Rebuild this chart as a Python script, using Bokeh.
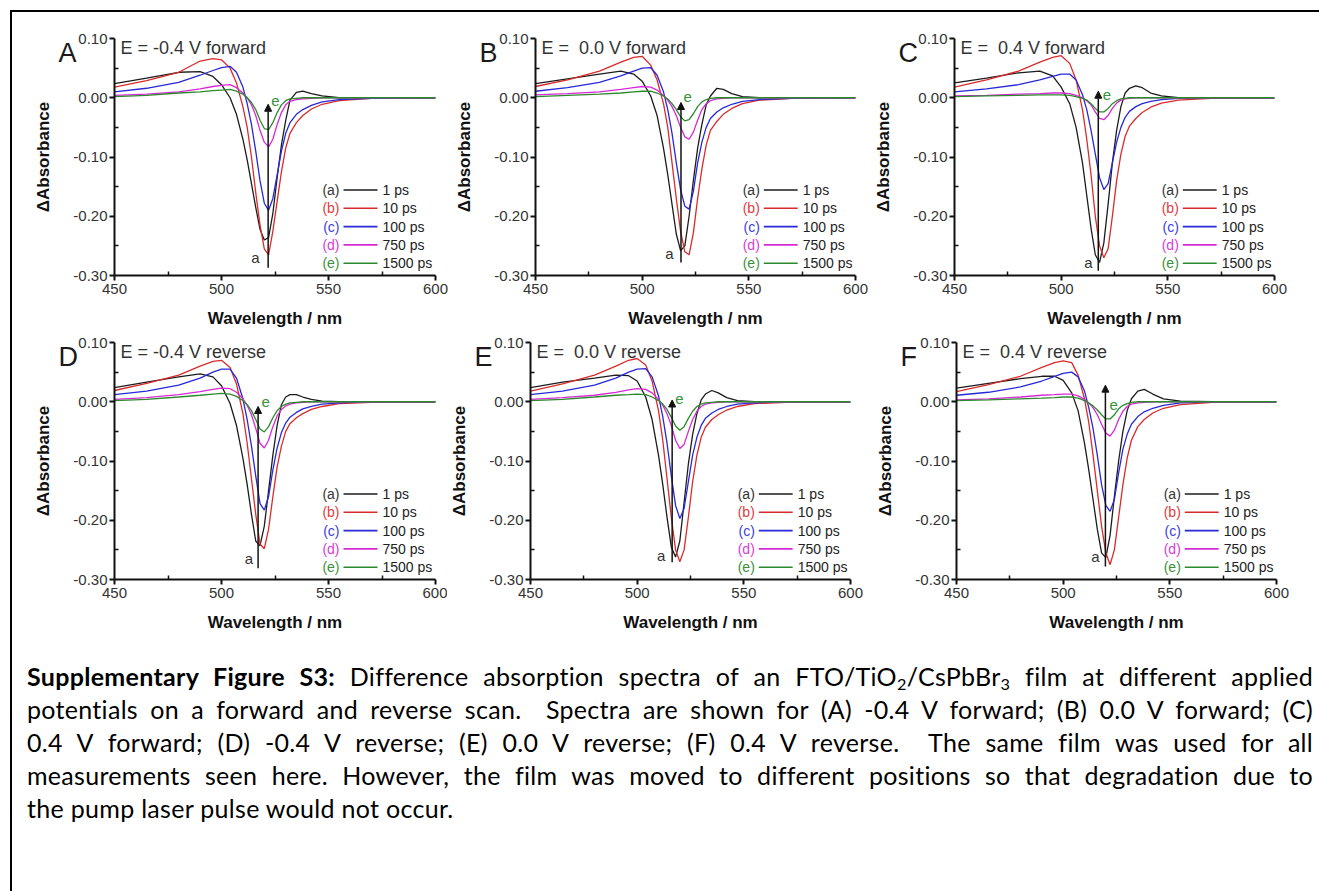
from bokeh.plotting import figure
from bokeh.layouts import row, column
from bokeh.models import FixedTicker, PrintfTickFormatter, Label, Arrow, NormalHead, Div, Title
from bokeh.embed import file_html
from bokeh.resources import INLINE

# ---------------- data ----------------
WL = [450, 465, 480, 490, 496, 500, 504, 507, 510, 512, 514, 516, 518, 520,
      522, 524, 526, 528, 530, 532, 535, 538, 542, 547, 555, 570, 600]

DELAYS = ["1 ps", "10 ps", "100 ps", "750 ps", "1500 ps"]
TAGS = ["(a)", "(b)", "(c)", "(d)", "(e)"]

A_a = [0.024, 0.033, 0.043, 0.044, 0.036, 0.022, 0.000, -0.028, -0.070, -0.105, -0.145, -0.185, -0.222, -0.240, -0.236, -0.195, -0.135, -0.080, -0.038, -0.004, 0.009, 0.011, 0.007, 0.003, 0.000, 0.000, 0.000]
A_b = [0.018, 0.029, 0.043, 0.062, 0.066, 0.064, 0.050, 0.025, -0.015, -0.050, -0.100, -0.160, -0.215, -0.255, -0.265, -0.225, -0.175, -0.125, -0.085, -0.060, -0.042, -0.030, -0.019, -0.011, -0.005, -0.001, 0.000]
A_c = [0.010, 0.016, 0.026, 0.038, 0.046, 0.051, 0.053, 0.043, 0.018, -0.010, -0.045, -0.090, -0.140, -0.178, -0.190, -0.170, -0.130, -0.090, -0.060, -0.042, -0.028, -0.020, -0.013, -0.007, -0.003, -0.001, 0.000]
A_d = [0.004, 0.006, 0.010, 0.015, 0.019, 0.021, 0.022, 0.017, 0.008, 0.000, -0.012, -0.030, -0.055, -0.075, -0.083, -0.070, -0.045, -0.025, -0.012, -0.006, -0.003, -0.002, -0.001, 0.000, 0.000, 0.000, 0.000]
A_e = [0.002, 0.004, 0.008, 0.010, 0.012, 0.013, 0.014, 0.011, 0.006, 0.000, -0.008, -0.020, -0.038, -0.052, -0.054, -0.042, -0.025, -0.012, -0.005, -0.002, -0.001, 0.000, 0.000, 0.000, 0.000, 0.000, 0.000]

B_a = [0.024, 0.032, 0.040, 0.045, 0.040, 0.028, 0.003, -0.030, -0.085, -0.130, -0.180, -0.230, -0.258, -0.250, -0.200, -0.140, -0.085, -0.045, -0.012, 0.003, 0.016, 0.014, 0.007, 0.002, 0.000, 0.000, 0.000]
B_b = [0.019, 0.030, 0.045, 0.060, 0.068, 0.070, 0.055, 0.030, -0.010, -0.050, -0.110, -0.170, -0.225, -0.260, -0.265, -0.228, -0.170, -0.120, -0.080, -0.055, -0.040, -0.028, -0.018, -0.010, -0.004, -0.001, 0.000]
B_c = [0.011, 0.017, 0.026, 0.037, 0.045, 0.050, 0.051, 0.038, 0.010, -0.020, -0.060, -0.110, -0.155, -0.183, -0.188, -0.158, -0.110, -0.075, -0.050, -0.035, -0.024, -0.017, -0.011, -0.006, -0.003, -0.001, 0.000]
B_d = [0.005, 0.007, 0.010, 0.014, 0.017, 0.019, 0.018, 0.013, 0.004, -0.004, -0.015, -0.030, -0.050, -0.066, -0.070, -0.058, -0.038, -0.020, -0.010, -0.005, -0.002, -0.001, 0.000, 0.000, 0.000, 0.000, 0.000]
B_e = [0.002, 0.004, 0.006, 0.008, 0.010, 0.011, 0.011, 0.008, 0.003, -0.002, -0.010, -0.020, -0.032, -0.039, -0.037, -0.027, -0.015, -0.007, -0.003, -0.001, 0.000, 0.000, 0.000, 0.000, 0.000, 0.000, 0.000]

C_a = [0.025, 0.033, 0.042, 0.045, 0.037, 0.018, -0.010, -0.050, -0.110, -0.165, -0.220, -0.265, -0.278, -0.245, -0.180, -0.110, -0.055, -0.015, 0.008, 0.016, 0.020, 0.017, 0.008, 0.003, 0.000, 0.000, 0.000]
C_b = [0.018, 0.030, 0.045, 0.060, 0.068, 0.071, 0.058, 0.030, -0.020, -0.070, -0.130, -0.200, -0.250, -0.270, -0.255, -0.200, -0.140, -0.095, -0.065, -0.048, -0.035, -0.025, -0.016, -0.009, -0.004, -0.001, 0.000]
C_c = [0.010, 0.015, 0.022, 0.030, 0.036, 0.040, 0.040, 0.030, 0.005, -0.020, -0.055, -0.095, -0.135, -0.155, -0.145, -0.110, -0.075, -0.050, -0.033, -0.023, -0.015, -0.010, -0.006, -0.003, -0.001, 0.000, 0.000]
C_d = [0.003, 0.004, 0.006, 0.007, 0.008, 0.008, 0.007, 0.004, 0.000, -0.005, -0.012, -0.024, -0.035, -0.037, -0.030, -0.018, -0.009, -0.004, -0.002, -0.001, 0.000, 0.000, 0.000, 0.000, 0.000, 0.000, 0.000]
C_e = [0.002, 0.003, 0.004, 0.005, 0.005, 0.005, 0.004, 0.002, -0.001, -0.004, -0.010, -0.018, -0.024, -0.024, -0.018, -0.010, -0.005, -0.002, -0.001, 0.000, 0.000, 0.000, 0.000, 0.000, 0.000, 0.000, 0.000]

D_a = [0.024, 0.033, 0.042, 0.047, 0.042, 0.027, -0.003, -0.040, -0.095, -0.140, -0.190, -0.235, -0.243, -0.210, -0.150, -0.090, -0.040, -0.005, 0.008, 0.012, 0.012, 0.008, 0.004, 0.001, 0.000, 0.000, 0.000]
D_b = [0.019, 0.031, 0.045, 0.060, 0.068, 0.070, 0.058, 0.030, -0.020, -0.070, -0.130, -0.190, -0.240, -0.248, -0.215, -0.160, -0.110, -0.075, -0.050, -0.037, -0.027, -0.020, -0.013, -0.008, -0.003, -0.001, 0.000]
D_c = [0.012, 0.018, 0.028, 0.040, 0.050, 0.055, 0.055, 0.040, 0.005, -0.030, -0.075, -0.125, -0.172, -0.183, -0.160, -0.115, -0.078, -0.052, -0.036, -0.026, -0.018, -0.012, -0.008, -0.004, -0.002, 0.000, 0.000]
D_d = [0.004, 0.007, 0.012, 0.017, 0.021, 0.023, 0.022, 0.016, 0.005, -0.006, -0.022, -0.045, -0.070, -0.078, -0.065, -0.042, -0.024, -0.013, -0.007, -0.004, -0.002, -0.001, 0.000, 0.000, 0.000, 0.000, 0.000]
D_e = [0.002, 0.004, 0.008, 0.011, 0.013, 0.014, 0.013, 0.009, 0.002, -0.005, -0.015, -0.030, -0.046, -0.051, -0.042, -0.027, -0.015, -0.008, -0.004, -0.002, -0.001, 0.000, 0.000, 0.000, 0.000, 0.000, 0.000]

E_a = [0.024, 0.033, 0.040, 0.045, 0.044, 0.035, 0.008, -0.030, -0.090, -0.140, -0.195, -0.245, -0.262, -0.235, -0.170, -0.105, -0.055, -0.020, 0.003, 0.013, 0.019, 0.015, 0.007, 0.002, 0.000, 0.000, 0.000]
E_b = [0.018, 0.030, 0.045, 0.060, 0.070, 0.073, 0.062, 0.035, -0.015, -0.065, -0.130, -0.195, -0.250, -0.270, -0.250, -0.195, -0.135, -0.090, -0.060, -0.043, -0.030, -0.022, -0.014, -0.008, -0.003, -0.001, 0.000]
E_c = [0.012, 0.018, 0.028, 0.040, 0.050, 0.055, 0.056, 0.042, 0.010, -0.025, -0.070, -0.125, -0.175, -0.197, -0.180, -0.135, -0.090, -0.060, -0.040, -0.028, -0.019, -0.013, -0.008, -0.004, -0.002, 0.000, 0.000]
E_d = [0.004, 0.007, 0.011, 0.016, 0.020, 0.022, 0.021, 0.015, 0.004, -0.006, -0.020, -0.040, -0.065, -0.079, -0.072, -0.050, -0.030, -0.016, -0.008, -0.004, -0.002, -0.001, 0.000, 0.000, 0.000, 0.000, 0.000]
E_e = [0.002, 0.004, 0.008, 0.011, 0.012, 0.013, 0.012, 0.008, 0.002, -0.004, -0.013, -0.026, -0.041, -0.048, -0.042, -0.028, -0.016, -0.008, -0.004, -0.002, -0.001, 0.000, 0.000, 0.000, 0.000, 0.000, 0.000]

F_a = [0.023, 0.031, 0.039, 0.043, 0.043, 0.036, 0.015, -0.015, -0.070, -0.115, -0.165, -0.215, -0.255, -0.263, -0.225, -0.160, -0.100, -0.050, -0.015, 0.005, 0.018, 0.021, 0.013, 0.005, 0.001, 0.000, 0.000]
F_b = [0.017, 0.029, 0.043, 0.058, 0.066, 0.069, 0.066, 0.045, 0.005, -0.035, -0.090, -0.150, -0.210, -0.255, -0.275, -0.250, -0.195, -0.140, -0.095, -0.065, -0.042, -0.030, -0.019, -0.011, -0.005, -0.001, 0.000]
F_c = [0.011, 0.016, 0.025, 0.035, 0.043, 0.048, 0.050, 0.042, 0.018, -0.010, -0.045, -0.090, -0.140, -0.175, -0.185, -0.165, -0.120, -0.080, -0.055, -0.038, -0.025, -0.017, -0.011, -0.006, -0.002, 0.000, 0.000]
F_d = [0.003, 0.005, 0.008, 0.011, 0.012, 0.013, 0.013, 0.010, 0.004, -0.002, -0.010, -0.022, -0.038, -0.053, -0.058, -0.048, -0.030, -0.016, -0.008, -0.004, -0.002, -0.001, 0.000, 0.000, 0.000, 0.000, 0.000]
F_e = [0.002, 0.003, 0.005, 0.006, 0.007, 0.008, 0.008, 0.006, 0.002, -0.002, -0.007, -0.014, -0.022, -0.029, -0.029, -0.022, -0.012, -0.006, -0.003, -0.001, 0.000, 0.000, 0.000, 0.000, 0.000, 0.000, 0.000]

LETTERS = ["A", "B", "C", "D", "E", "F"]
CONDITIONS = ["E = -0.4 V forward", "E =\u00a0\u00a00.0 V forward", "E =\u00a0\u00a00.4 V forward",
              "E = -0.4 V reverse", "E =\u00a0\u00a00.0 V reverse", "E =\u00a0\u00a00.4 V reverse"]
SERIES = [[A_a, A_b, A_c, A_d, A_e], [B_a, B_b, B_c, B_d, B_e], [C_a, C_b, C_c, C_d, C_e],
          [D_a, D_b, D_c, D_d, D_e], [E_a, E_b, E_c, E_d, E_e], [F_a, F_b, F_c, F_d, F_e]]

# arrow (decay direction a -> e): x, y bottom, y top
ARROW_X = [521.8, 518.2, 517.4, 517.1, 516.4, 519.8]
ARROW_Y0 = [-0.287, -0.278, -0.292, -0.281, -0.271, -0.278]
ARROW_Y1 = [-0.011, -0.008, 0.011, -0.008, 0.003, 0.028]
LBL_A_X = [515.9, 512.8, 512.8, 512.8, 511.2, 515.1]
LBL_A_Y = [-0.270, -0.263, -0.278, -0.264, -0.259, -0.262]
LBL_E_X = [525.2, 521.3, 521.4, 520.6, 519.8, 523.7]
LBL_E_Y = [-0.005, 0.001, 0.005, 0.000, 0.004, -0.005]

# ---------------- style ----------------
FONT = "Liberation Sans"
COLORS = ["#1c1c1c", "#d92b2b", "#2828d8", "#d62ad6", "#2c8a2c"]
TAG_COLORS = ["#333333", "#e03c3c", "#3c3ce0", "#d83cd8", "#3a923a"]

PX_X = 321 / 150.0      # px per nm
PX_Y = 237 / 0.40       # px per absorbance unit


def make_panel(i, frame_w, left, right, top, bottom):
    p = figure(frame_width=frame_w, frame_height=237, x_range=(450, 600), y_range=(-0.30, 0.10),
               output_backend="svg", toolbar_location=None,
               min_border_left=left, min_border_right=right, min_border_top=top, min_border_bottom=bottom)
    p.outline_line_color = None
    p.grid.visible = False
    p.background_fill_color = "white"
    p.border_fill_color = "white"

    for k, ys in enumerate(SERIES[i]):
        p.line(WL, ys, line_color=COLORS[k], line_width=1.3)

    # axes
    p.xaxis.ticker = FixedTicker(ticks=[450, 500, 550, 600], minor_ticks=[475, 525, 575])
    p.yaxis.ticker = FixedTicker(ticks=[-0.3, -0.2, -0.1, 0.0, 0.1], minor_ticks=[-0.25, -0.15, -0.05, 0.05])
    p.yaxis.formatter = PrintfTickFormatter(format="%.2f")
    for ax in (p.xaxis[0], p.yaxis[0]):
        ax.axis_line_width = 2
        ax.axis_line_color = "#111111"
        ax.major_tick_line_width = 2
        ax.major_tick_line_color = "#111111"
        ax.minor_tick_line_width = 1.5
        ax.minor_tick_line_color = "#111111"
        ax.major_tick_out = 5
        ax.major_tick_in = 0
        ax.minor_tick_out = 0
        ax.minor_tick_in = 4
        ax.major_label_text_font = FONT
        ax.major_label_text_font_size = "15px"
        ax.major_label_text_color = "#333333"
        ax.axis_label_text_font = FONT
        ax.axis_label_text_font_size = "17px"
        ax.axis_label_text_font_style = "bold"
        ax.axis_label_text_color = "#111111"
    p.xaxis.axis_label = "Wavelength / nm"
    p.yaxis.axis_label = "\u0394Absorbance"
    p.xaxis.major_label_standoff = 3
    p.xaxis.axis_label_standoff = 12
    p.yaxis.major_label_standoff = 2
    p.yaxis.axis_label_standoff = 17

    # panel letter (a title pulled left of the y axis and down beside the frame top)
    try:
        t = Title(text=LETTERS[i], align="left", offset=-56, standoff=-58, text_font=FONT,
                  text_font_size="27px", text_font_style="normal", text_color="#1a1a1a")
    except Exception:
        t = Title(text=LETTERS[i], align="left", offset=-56, standoff=0, text_font=FONT,
                  text_font_size="27px", text_font_style="normal", text_color="#1a1a1a")
    p.add_layout(t, "above")

    p.add_layout(Label(x=450 + 6 / PX_X, y=0.10 - 9.5 / PX_Y, text=CONDITIONS[i], text_font=FONT,
                       text_font_size="18px", text_color="#333333", text_align="left", text_baseline="middle"))

    # legend
    for k in range(5):
        yy = 0.10 - (151.5 + 18.3 * k) / PX_Y
        p.add_layout(Label(x=450 + 225 / PX_X, y=yy, text=TAGS[k], text_font=FONT, text_font_size="14px",
                           text_color=TAG_COLORS[k], text_align="right", text_baseline="middle"))
        p.segment(x0=[450 + 229 / PX_X], y0=[yy], x1=[450 + 263 / PX_X], y1=[yy],
                  line_color=COLORS[k], line_width=1.6)
        p.add_layout(Label(x=450 + 268 / PX_X, y=yy, text=DELAYS[k], text_font=FONT, text_font_size="14px",
                           text_color="#222222", text_align="left", text_baseline="middle"))

    # arrow a -> e
    p.add_layout(Arrow(end=NormalHead(size=7, fill_color="#111111", line_color="#111111"),
                       x_start=ARROW_X[i], y_start=ARROW_Y0[i], x_end=ARROW_X[i], y_end=ARROW_Y1[i],
                       line_color="#111111", line_width=1.5))
    p.add_layout(Label(x=LBL_A_X[i], y=LBL_A_Y[i], text="a", text_font=FONT, text_font_size="15px",
                       text_color="#333333", text_align="center", text_baseline="middle"))
    p.add_layout(Label(x=LBL_E_X[i], y=LBL_E_Y[i], text="e", text_font=FONT, text_font_size="15px",
                       text_color="#3a923a", text_align="center", text_baseline="middle"))
    return p


pA = make_panel(0, 321, 102, 17, 26, 52)
pB = make_panel(1, 320, 82, 16, 26, 52)
pC = make_panel(2, 320, 82, 20, 26, 52)
pD = make_panel(3, 321, 102, 12, 12, 52)
pE = make_panel(4, 320, 82, 23, 12, 52)
pF = make_panel(5, 320, 82, 20, 12, 52)

CAPTION_LINES = [
    "<b>Supplementary Figure S3:</b> Difference absorption spectra of an FTO/TiO<sub>2</sub>/CsPbBr<sub>3</sub> film at different applied",
    "potentials on a forward and reverse scan.&nbsp; Spectra are shown for (A) -0.4 V forward; (B) 0.0 V forward; (C)",
    "0.4 V forward; (D) -0.4 V reverse; (E) 0.0 V reverse; (F) 0.4 V reverse.&nbsp; The same film was used for all",
    "measurements seen here. However, the film was moved to different positions so that degradation due to",
    "the pump laser pulse would not occur.",
]
inner = ""
for j, ln in enumerate(CAPTION_LINES):
    last = "left" if j == len(CAPTION_LINES) - 1 else "justify"
    ln = ln.replace("<sub>", "<sub style='font-size:65%;line-height:0;vertical-align:-0.25em;'>")
    inner += "<div style='text-align:justify;text-align-last:%s;height:33px;'>%s</div>" % (last, ln)
caption = Div(text="<div style='width:1286px;margin-left:10px;padding-top:21px;font-family:Lato;"
                   "font-size:25px;letter-spacing:0.3px;line-height:33px;color:#000;'>%s</div>" % inner,
              width=1304, height=261)

body = column(row(pA, pB, pC), row(pD, pE, pF), caption, margin=(10, 0, 0, 10),
              styles={"border-top": "2px solid #000", "border-left": "2px solid #000"})

open("out.html", "w").write(file_html(body, INLINE))
